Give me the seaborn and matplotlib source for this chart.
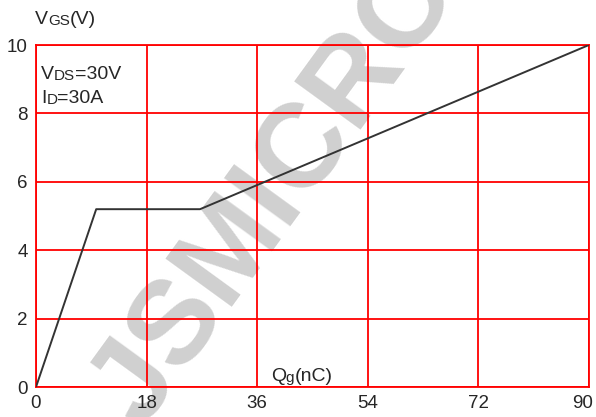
import seaborn as sns
import matplotlib.pyplot as plt
import matplotlib.transforms as mtransforms
import pandas as pd

# Datos de la curva de carga de puerta
qg = [0, 9.8, 26.7, 90]
vgs = [0, 5.2, 5.2, 10]
x_ticks = [0, 18, 36, 54, 72, 90]
y_ticks = [0, 2, 4, 6, 8, 10]

df = pd.DataFrame({"Qg": qg, "Vgs": vgs})

sns.set_style("white")
plt.rcParams['font.family'] = ['Liberation Sans', 'DejaVu Sans']

fig = plt.figure(figsize=(5.96, 4.17), dpi=100)
ax = fig.add_axes([0.0604, 0.0719, 0.9276, 0.8201])

# Marca de agua (debajo de los ejes)
fig.text(0.465, 0.54, "JSMICRO", fontsize=86, color='#d0d0d0', rotation=54,
         ha='center', va='center', fontweight='bold', zorder=-1)
ax.patch.set_alpha(0)

sns.lineplot(data=df, x="Qg", y="Vgs", color='#333333', linewidth=1.4, ax=ax, zorder=5)

ax.set_xlim(0, 90)
ax.set_ylim(0, 10)
ax.set_xticks(x_ticks)
ax.set_yticks(y_ticks)
ax.tick_params(labelsize=13.5, length=0, pad=6)
ax.grid(True, color='#ff0000', linewidth=1.3)
for s in ax.spines.values():
    s.set_color('#ff0000')
    s.set_linewidth(1.3)
ax.set_xlabel('')
ax.set_ylabel('')

# mover un poco la ultima etiqueta para que no se corte
ultima = ax.get_xticklabels()[-1]
ultima.set_transform(ultima.get_transform() +
                     mtransforms.ScaledTranslation(-6 / 100, 0, fig.dpi_scale_trans))


# Etiqueta con subindice pequeño sobre la misma linea base
def etiqueta(x, y, partes):
    t = ax.text(x, y, partes[0][0], fontsize=partes[0][1], ha='left', va='bottom')
    for texto, tam in partes[1:]:
        t = ax.annotate(texto, xy=(1, 0), xycoords=t, fontsize=tam,
                        ha='left', va='bottom')
    return t


etiqueta(-0.2, 10.5, [("V", 14), ("GS", 11), ("(V)", 14)])
etiqueta(38.2, 0.05, [("Q", 14), ("g", 11), ("(nC)", 14)])
etiqueta(0.8, 8.9, [("V", 14), ("DS", 11), ("=30V", 14)])
etiqueta(0.8, 8.2, [("I", 14), ("D", 11), ("=30A", 14)])

plt.savefig("out.png", dpi=100)
